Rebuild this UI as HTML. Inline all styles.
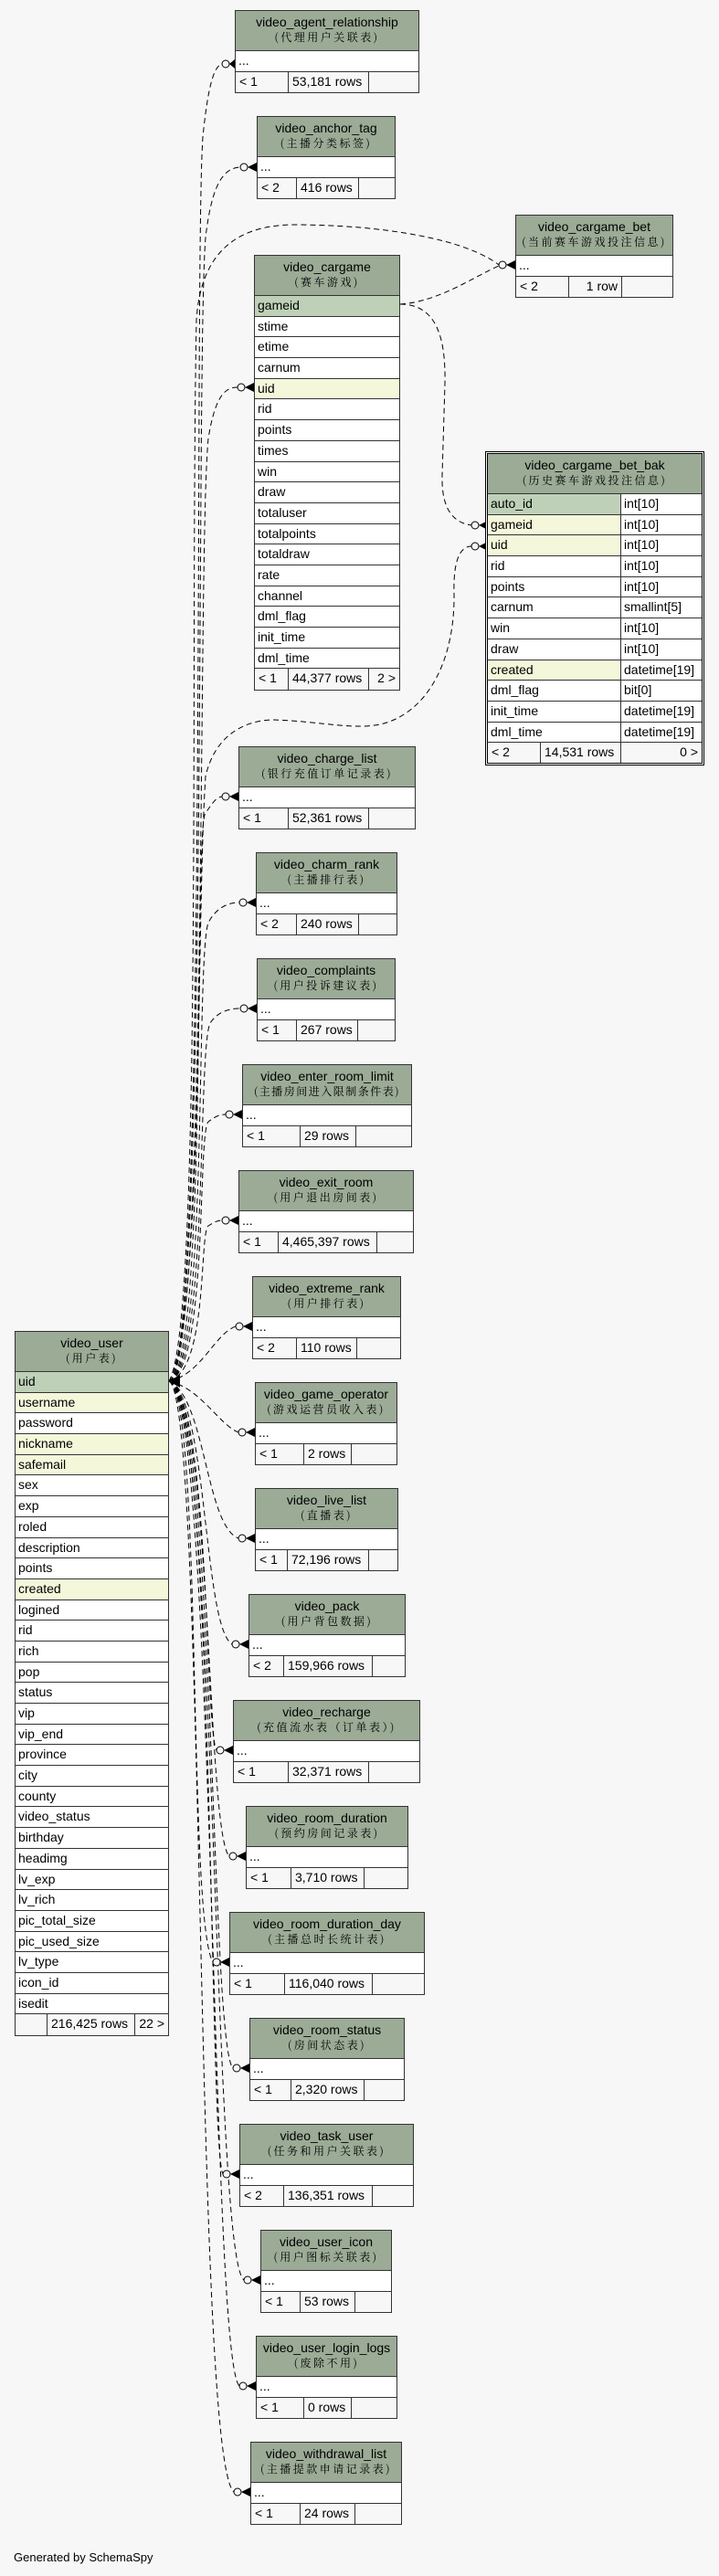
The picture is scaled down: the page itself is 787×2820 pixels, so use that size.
<!DOCTYPE html>
<html><head><meta charset="utf-8">
<style>
body{margin:0;background:#f7f7f7;width:787px;height:2820px;position:relative;overflow:hidden;font-family:"Liberation Sans","Noto Sans CJK SC",sans-serif;color:#000}
.t{position:absolute;border:1px solid #333;background:#fff;box-sizing:border-box}
.h{height:44px;background:#9bab96;border-bottom:1px solid #333;box-sizing:border-box;text-align:center;font-size:14px;line-height:16px;padding-top:4px;white-space:nowrap}
.h i{display:block;font-style:normal;font-family:"Noto Serif CJK SC","Liberation Serif",serif;font-size:12px;letter-spacing:2.5px;line-height:18px}
.r{height:22.7px;border-bottom:1px solid #333;box-sizing:border-box;padding-left:3px;font-size:14px;line-height:21px;white-space:nowrap;overflow:hidden}
.pk{background:#bed1b8}.fk{background:#f4f7da}
.f{display:flex;height:22.2px;background:#f7f7f7;font-size:14px;line-height:21px}
.f span{border-right:1px solid #333;box-sizing:border-box;padding-left:4px;white-space:nowrap;overflow:hidden}
.f span:last-child{border-right:none;flex:1;text-align:right;padding-right:4px}
.c2{display:flex;height:22.7px;border-bottom:1px solid #333;box-sizing:border-box;font-size:14px;line-height:21px}
.c2 span{padding-left:3px;box-sizing:border-box}
.c2 span:first-child{width:146px;border-right:1px solid #333}
.c2 span:last-child{flex:1;background:#fff}
svg{position:absolute;left:0;top:0}
</style></head><body>
<svg width="787" height="2820" fill="none" stroke="#000" stroke-width="1">
<g stroke-dasharray="6,4">
<path d="M185,1512 C228,1500 212,300 222,150 C228,90 235,72 243,70"/>
<path d="M185,1512 C228,1500 214,400 225,260 C232,200 245,184 263,183"/>
<path d="M185,1512 C222,1450 208,700 215,350 C220,275 260,247 320,246 C420,246 510,262 546,290"/>
<path d="M185,1512 C228,1500 216,600 228,480 C236,430 248,424 260,424"/>
<path d="M438,333 C480,330 515,305 546,291"/>
<path d="M438,333 C478,333 488,370 487,420 L484,520 C483,556 495,572 516,575"/>
<path d="M185,1512 C222,1450 215,1000 225,850 C235,805 268,788 300,788 C355,790 390,800 420,792 C470,778 498,720 497,650 C496,615 503,598 516,598"/>
<path d="M185,1512 C228,1500 212,900 225,890 C232,880 236,873 243,872"/>
<path d="M185,1512 C228,1500 214,1050 228,1010 C236,995 248,988 262,988"/>
<path d="M185,1512 C228,1500 216,1150 230,1120 C238,1108 250,1104 263,1104"/>
<path d="M185,1512 C228,1500 216,1240 228,1228 C236,1222 240,1220 247,1220"/>
<path d="M185,1512 C228,1500 218,1350 228,1342 C234,1338 238,1336 243,1336"/>
<path d="M185,1512 C220,1505 235,1460 258,1452"/>
<path d="M185,1512 C220,1520 240,1560 261,1568"/>
<path d="M185,1512 C225,1530 225,1670 261,1684"/>
<path d="M185,1512 C228,1530 222,1780 254,1800"/>
<path d="M185,1512 C230,1530 224,1895 237,1916"/>
<path d="M185,1512 C232,1530 226,2010 251,2032"/>
<path d="M185,1512 C222,1530 205,2100 233,2148"/>
<path d="M185,1512 C236,1530 230,2240 255,2264"/>
<path d="M185,1512 C236,1530 228,2350 244,2380"/>
<path d="M185,1512 C238,1530 232,2470 267,2496"/>
<path d="M185,1512 C236,1530 230,2580 262,2612"/>
<path d="M185,1512 C226,1530 212,2690 256,2728"/>
</g>
<g fill="#f7f7f7">
<circle cx="247" cy="70" r="4"/><circle cx="267" cy="183" r="4"/><circle cx="550" cy="290" r="4"/>
<circle cx="264" cy="424" r="4"/><circle cx="520" cy="575" r="4"/><circle cx="520" cy="598" r="4"/>
<circle cx="247" cy="872" r="4"/><circle cx="266" cy="988" r="4"/><circle cx="267" cy="1104" r="4"/>
<circle cx="251" cy="1220" r="4"/><circle cx="247" cy="1336" r="4"/><circle cx="262" cy="1452" r="4"/>
<circle cx="265" cy="1568" r="4"/><circle cx="265" cy="1684" r="4"/><circle cx="258" cy="1800" r="4"/>
<circle cx="241" cy="1916" r="4"/><circle cx="255" cy="2032" r="4"/><circle cx="237" cy="2148" r="4"/>
<circle cx="259" cy="2264" r="4"/><circle cx="248" cy="2380" r="4"/><circle cx="271" cy="2496" r="4"/>
<circle cx="266" cy="2612" r="4"/><circle cx="260" cy="2728" r="4"/>
</g>
<g fill="#000" stroke="none">
<polygon points="251,70 257,65 257,75"/><polygon points="271,183 281,178 281,188"/><polygon points="554,290 564,285 564,295"/>
<polygon points="268,424 278,419 278,429"/><polygon points="524,575 534,570 534,580"/><polygon points="524,598 534,593 534,603"/>
<polygon points="251,872 261,867 261,877"/><polygon points="270,988 280,983 280,993"/><polygon points="271,1104 281,1099 281,1109"/>
<polygon points="255,1220 265,1215 265,1225"/><polygon points="251,1336 261,1331 261,1341"/><polygon points="266,1452 276,1447 276,1457"/>
<polygon points="269,1568 279,1563 279,1573"/><polygon points="269,1684 279,1679 279,1689"/><polygon points="262,1800 272,1795 272,1805"/>
<polygon points="245,1916 255,1911 255,1921"/><polygon points="259,2032 269,2027 269,2037"/><polygon points="241,2148 251,2143 251,2153"/>
<polygon points="263,2264 273,2259 273,2269"/><polygon points="252,2380 262,2375 262,2385"/><polygon points="275,2496 285,2491 285,2501"/>
<polygon points="270,2612 280,2607 280,2617"/><polygon points="264,2728 274,2723 274,2733"/>
<polygon points="185,1512 197,1505 197,1519"/>
</g>
</svg>

<div class="t" style="left:257px;top:11px;width:202px"><div class="h">video_agent_relationship<i>(代理用户关联表)</i></div><div class="r">...</div><div class="f"><span style="width:58px">&lt; 1</span><span style="width:88px">53,181 rows</span><span></span></div></div>
<div class="t" style="left:281px;top:127px;width:152px"><div class="h">video_anchor_tag<i>(主播分类标签)</i></div><div class="r">...</div><div class="f"><span style="width:43px">&lt; 2</span><span style="width:68px">416 rows</span><span></span></div></div>
<div class="t" style="left:564px;top:235px;width:173px"><div class="h">video_cargame_bet<i>(当前赛车游戏投注信息)</i></div><div class="r">...</div><div class="f"><span style="width:58px">&lt; 2</span><span style="width:58px;text-align:right;padding-right:4px">1 row</span><span></span></div></div>
<div class="t" style="left:278px;top:279px;width:160px"><div class="h">video_cargame<i>(赛车游戏)</i></div>
<div class="r pk">gameid</div><div class="r">stime</div><div class="r">etime</div><div class="r">carnum</div><div class="r fk">uid</div><div class="r">rid</div><div class="r">points</div><div class="r">times</div><div class="r">win</div><div class="r">draw</div><div class="r">totaluser</div><div class="r">totalpoints</div><div class="r">totaldraw</div><div class="r">rate</div><div class="r">channel</div><div class="r">dml_flag</div><div class="r">init_time</div><div class="r">dml_time</div>
<div class="f"><span style="width:37px">&lt; 1</span><span style="width:88px">44,377 rows</span><span>2 &gt;</span></div></div>

<div class="t" style="left:531px;top:494px;width:240px;border:3px double #000"><div class="h">video_cargame_bet_bak<i>(历史赛车游戏投注信息)</i></div>
<div class="c2"><span class="pk">auto_id</span><span>int[10]</span></div>
<div class="c2"><span class="fk">gameid</span><span>int[10]</span></div>
<div class="c2"><span class="fk">uid</span><span>int[10]</span></div>
<div class="c2"><span>rid</span><span>int[10]</span></div>
<div class="c2"><span>points</span><span>int[10]</span></div>
<div class="c2"><span>carnum</span><span>smallint[5]</span></div>
<div class="c2"><span>win</span><span>int[10]</span></div>
<div class="c2"><span>draw</span><span>int[10]</span></div>
<div class="c2"><span class="fk">created</span><span>datetime[19]</span></div>
<div class="c2"><span>dml_flag</span><span>bit[0]</span></div>
<div class="c2"><span>init_time</span><span>datetime[19]</span></div>
<div class="c2"><span>dml_time</span><span>datetime[19]</span></div>
<div class="f"><span style="width:58px">&lt; 2</span><span style="width:88px">14,531 rows</span><span>0 &gt;</span></div></div>

<div class="t" style="left:261px;top:817px;width:194px"><div class="h">video_charge_list<i>(银行充值订单记录表)</i></div><div class="r">...</div><div class="f"><span style="width:54px">&lt; 1</span><span style="width:88px">52,361 rows</span><span></span></div></div>
<div class="t" style="left:280px;top:933px;width:155px"><div class="h">video_charm_rank<i>(主播排行表)</i></div><div class="r">...</div><div class="f"><span style="width:44px">&lt; 2</span><span style="width:68px">240 rows</span><span></span></div></div>
<div class="t" style="left:281px;top:1049px;width:152px"><div class="h">video_complaints<i>(用户投诉建议表)</i></div><div class="r">...</div><div class="f"><span style="width:43px">&lt; 1</span><span style="width:67px">267 rows</span><span></span></div></div>
<div class="t" style="left:265px;top:1165px;width:186px"><div class="h">video_enter_room_limit<i style="letter-spacing:1.5px">(主播房间进入限制条件表)</i></div><div class="r">...</div><div class="f"><span style="width:63px">&lt; 1</span><span style="width:61px">29 rows</span><span></span></div></div>
<div class="t" style="left:261px;top:1281px;width:192px"><div class="h">video_exit_room<i>(用户退出房间表)</i></div><div class="r">...</div><div class="f"><span style="width:43px">&lt; 1</span><span style="width:108px">4,465,397 rows</span><span></span></div></div>
<div class="t" style="left:276px;top:1397px;width:163px"><div class="h">video_extreme_rank<i>(用户排行表)</i></div><div class="r">...</div><div class="f"><span style="width:48px">&lt; 2</span><span style="width:66px">110 rows</span><span></span></div></div>
<div class="t" style="left:279px;top:1513px;width:156px"><div class="h">video_game_operator<i>(游戏运营员收入表)</i></div><div class="r">...</div><div class="f"><span style="width:53px">&lt; 1</span><span style="width:52px">2 rows</span><span></span></div></div>
<div class="t" style="left:279px;top:1629px;width:157px"><div class="h">video_live_list<i>(直播表)</i></div><div class="r">...</div><div class="f"><span style="width:35px">&lt; 1</span><span style="width:89px">72,196 rows</span><span></span></div></div>
<div class="t" style="left:272px;top:1745px;width:172px"><div class="h">video_pack<i>(用户背包数据)</i></div><div class="r">...</div><div class="f"><span style="width:38px">&lt; 2</span><span style="width:97px">159,966 rows</span><span></span></div></div>
<div class="t" style="left:255px;top:1861px;width:205px"><div class="h">video_recharge<i>(充值流水表（订单表）)</i></div><div class="r">...</div><div class="f"><span style="width:60px">&lt; 1</span><span style="width:88px">32,371 rows</span><span></span></div></div>
<div class="t" style="left:269px;top:1977px;width:178px"><div class="h">video_room_duration<i>(预约房间记录表)</i></div><div class="r">...</div><div class="f"><span style="width:49px">&lt; 1</span><span style="width:80px">3,710 rows</span><span></span></div></div>
<div class="t" style="left:251px;top:2093px;width:214px"><div class="h">video_room_duration_day<i>(主播总时长统计表)</i></div><div class="r">...</div><div class="f"><span style="width:60px">&lt; 1</span><span style="width:96px">116,040 rows</span><span></span></div></div>
<div class="t" style="left:273px;top:2209px;width:170px"><div class="h">video_room_status<i>(房间状态表)</i></div><div class="r">...</div><div class="f"><span style="width:45px">&lt; 1</span><span style="width:80px">2,320 rows</span><span></span></div></div>
<div class="t" style="left:262px;top:2325px;width:191px"><div class="h">video_task_user<i>(任务和用户关联表)</i></div><div class="r">...</div><div class="f"><span style="width:48px">&lt; 2</span><span style="width:97px">136,351 rows</span><span></span></div></div>
<div class="t" style="left:285px;top:2441px;width:144px"><div class="h">video_user_icon<i>(用户图标关联表)</i></div><div class="r">...</div><div class="f"><span style="width:43px">&lt; 1</span><span style="width:60px">53 rows</span><span></span></div></div>
<div class="t" style="left:280px;top:2557px;width:155px"><div class="h">video_user_login_logs<i>(废除不用)</i></div><div class="r">...</div><div class="f"><span style="width:52px">&lt; 1</span><span style="width:52px">0 rows</span><span></span></div></div>
<div class="t" style="left:274px;top:2673px;width:166px"><div class="h">video_withdrawal_list<i>(主播提款申请记录表)</i></div><div class="r">...</div><div class="f"><span style="width:54px">&lt; 1</span><span style="width:60px">24 rows</span><span></span></div></div>

<div class="t" style="left:16px;top:1457px;width:169px"><div class="h">video_user<i>(用户表)</i></div>
<div class="r pk">uid</div><div class="r fk">username</div><div class="r">password</div><div class="r fk">nickname</div><div class="r fk">safemail</div><div class="r">sex</div><div class="r">exp</div><div class="r">roled</div><div class="r">description</div><div class="r">points</div><div class="r fk">created</div><div class="r">logined</div><div class="r">rid</div><div class="r">rich</div><div class="r">pop</div><div class="r">status</div><div class="r">vip</div><div class="r">vip_end</div><div class="r">province</div><div class="r">city</div><div class="r">county</div><div class="r">video_status</div><div class="r">birthday</div><div class="r">headimg</div><div class="r">lv_exp</div><div class="r">lv_rich</div><div class="r">pic_total_size</div><div class="r">pic_used_size</div><div class="r">lv_type</div><div class="r">icon_id</div><div class="r">isedit</div>
<div class="f"><span style="width:35px"></span><span style="width:96px">216,425 rows</span><span>22 &gt;</span></div></div>

<div style="position:absolute;left:15px;top:2792px;font-size:13px">Generated by SchemaSpy</div>
</body></html>
